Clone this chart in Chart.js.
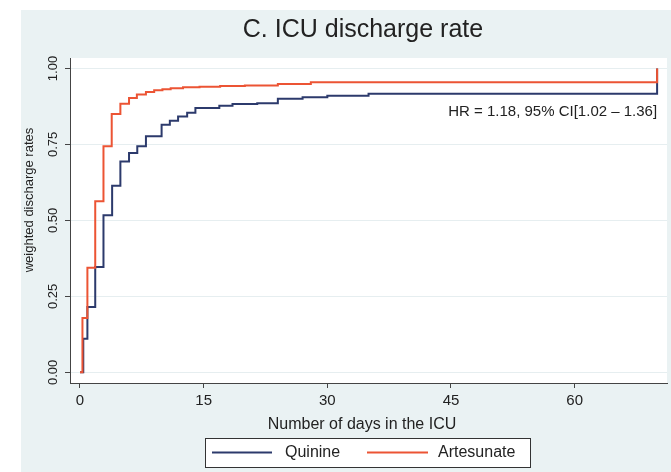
<!DOCTYPE html>
<html>
<head>
<meta charset="utf-8">
<script src="https://cdn.jsdelivr.net/npm/chart.js@4/dist/chart.umd.min.js"></script>
<style>
  html, body { margin: 0; padding: 0; background: #ffffff; }
  #wrap { width: 671px; height: 472px; }
</style>
</head>
<body>
<div id="wrap"><canvas id="c" width="671" height="472"></canvas></div>
<script>
// Weighted cumulative ICU discharge (step curves), days since admission
const quinineDays = [0, 0.4, 0.9, 1.85, 2.85, 3.9, 4.9, 5.95, 6.95, 8.0, 9.9, 10.9, 11.9, 13.0, 14.0, 16.9, 18.5, 21.5, 24.0, 27.0, 30.0, 35.0, 70.0];
const quinineRate = [0, 0.111, 0.215, 0.347, 0.517, 0.614, 0.694, 0.722, 0.744, 0.777, 0.815, 0.828, 0.842, 0.854, 0.870, 0.877, 0.883, 0.886, 0.900, 0.905, 0.910, 0.917, 1.0];

const artesunateDays = [0, 0.3, 0.9, 1.85, 2.85, 3.85, 4.9, 5.95, 6.9, 8.0, 9.0, 10.0, 11.0, 12.5, 14.5, 17.0, 20.0, 24.0, 28.0, 70.0];
const artesunateRate = [0, 0.179, 0.344, 0.563, 0.744, 0.850, 0.884, 0.903, 0.914, 0.923, 0.928, 0.932, 0.935, 0.938, 0.940, 0.942, 0.944, 0.949, 0.955, 1.0];

const seriesNames = ['Quinine', 'Artesunate'];
const seriesColors = ['#2c3a6c', '#ec5434'];

const xTickValues = [0, 15, 30, 45, 60];
const yTickValues = [0, 0.25, 0.5, 0.75, 1.0];
const yTickLabels = ['0.00', '0.25', '0.50', '0.75', '1.00'];

const chartTitle = 'C. ICU discharge rate';
const xTitle = 'Number of days in the ICU';
const yTitle = 'weighted discharge rates';
const hrNote = 'HR = 1.18, 95% CI[1.02 \u2013 1.36]';
const hrNoteAt = { x: 70, y: 0.858 };

const FONT = '"Liberation Sans", Arial, sans-serif';
const INK = '#222222';

const toPoints = (xs, ys) => xs.map((x, i) => ({ x: x, y: ys[i] }));

// Light graph region behind a white plot region
const backdrop = {
  id: 'backdrop',
  beforeDraw(chart) {
    const { ctx, chartArea: a } = chart;
    ctx.save();
    ctx.fillStyle = '#ffffff';
    ctx.fillRect(0, 0, chart.width, chart.height);
    ctx.fillStyle = '#eaf2f3';
    ctx.fillRect(21, 10, chart.width - 21, chart.height - 10);
    ctx.fillStyle = '#ffffff';
    ctx.fillRect(a.left, a.top, a.right - a.left, a.bottom - a.top);
    ctx.restore();
  }
};

// Titles, rotated y labels, note and boxed legend
const decorations = {
  id: 'decorations',
  afterDraw(chart) {
    const { ctx, chartArea: a } = chart;
    const xs = chart.scales.x, ys = chart.scales.y;
    ctx.save();
    ctx.fillStyle = INK;

    // main title
    ctx.font = '25px ' + FONT;
    ctx.textAlign = 'center';
    ctx.textBaseline = 'middle';
    ctx.fillText(chartTitle, 363, 30);

    // y tick labels, rotated
    ctx.font = '13px ' + FONT;
    yTickValues.forEach((v, i) => {
      const py = ys.getPixelForValue(v);
      ctx.save();
      ctx.translate(53, py);
      ctx.rotate(-Math.PI / 2);
      ctx.textAlign = 'center';
      ctx.textBaseline = 'middle';
      ctx.fillText(yTickLabels[i], 0, 0);
      ctx.restore();
    });

    // y axis title
    ctx.save();
    ctx.translate(29, 200);
    ctx.rotate(-Math.PI / 2);
    ctx.font = '13px ' + FONT;
    ctx.textAlign = 'center';
    ctx.textBaseline = 'middle';
    ctx.fillText(yTitle, 0, 0);
    ctx.restore();

    // x axis title
    ctx.font = '16px ' + FONT;
    ctx.textAlign = 'center';
    ctx.textBaseline = 'middle';
    ctx.fillText(xTitle, 362, 425);

    // hazard ratio note
    ctx.font = '15px ' + FONT;
    ctx.textAlign = 'right';
    ctx.fillText(hrNote, xs.getPixelForValue(hrNoteAt.x), ys.getPixelForValue(hrNoteAt.y));

    // legend box
    const bx = 205, by = 438, bw = 325, bh = 29;
    ctx.strokeStyle = '#333333';
    ctx.lineWidth = 1;
    ctx.fillStyle = '#ffffff';
    ctx.fillRect(bx, by, bw, bh);
    ctx.strokeRect(bx + 0.5, by + 0.5, bw, bh);
    const cy = by + bh / 2;
    const keys = [
      { x0: 212, x1: 272, tx: 285 },
      { x0: 367, x1: 428, tx: 438 }
    ];
    ctx.font = '16px ' + FONT;
    ctx.textAlign = 'left';
    ctx.textBaseline = 'middle';
    keys.forEach((k, i) => {
      ctx.strokeStyle = seriesColors[i];
      ctx.lineWidth = 2;
      ctx.beginPath();
      ctx.moveTo(k.x0, cy);
      ctx.lineTo(k.x1, cy);
      ctx.stroke();
      ctx.fillStyle = INK;
      ctx.fillText(seriesNames[i], k.tx, cy);
    });
    ctx.restore();
  }
};

new Chart(document.getElementById('c'), {
  type: 'line',
  data: {
    datasets: [
      {
        label: seriesNames[0],
        data: toPoints(quinineDays, quinineRate),
        borderColor: seriesColors[0],
        borderWidth: 2,
        stepped: 'before',
        pointRadius: 0,
        fill: false,
        order: 1
      },
      {
        label: seriesNames[1],
        data: toPoints(artesunateDays, artesunateRate),
        borderColor: seriesColors[1],
        borderWidth: 2,
        stepped: 'before',
        pointRadius: 0,
        fill: false,
        order: 0
      }
    ]
  },
  options: {
    responsive: false,
    animation: false,
    devicePixelRatio: 1,
    layout: { padding: { left: 0, top: 58, right: 4, bottom: 0 } },
    plugins: {
      legend: { display: false },
      title: { display: false },
      tooltip: { enabled: false }
    },
    scales: {
      x: {
        type: 'linear',
        min: -1.21,
        max: 71.2,
        afterBuildTicks: (axis) => { axis.ticks = xTickValues.map(v => ({ value: v })); },
        afterFit: (axis) => { axis.height = 89; },
        ticks: {
          autoSkip: false,
          maxRotation: 0,
          padding: 4,
          color: INK,
          font: { family: FONT, size: 15 },
          callback: (v) => String(v)
        },
        grid: {
          drawOnChartArea: false,
          drawTicks: true,
          tickLength: 5,
          tickColor: '#444444',
          tickWidth: 1
        },
        border: { display: true, color: '#444444', width: 1 }
      },
      y: {
        type: 'linear',
        min: -0.035,
        max: 1.0345,
        afterBuildTicks: (axis) => { axis.ticks = yTickValues.map(v => ({ value: v })); },
        afterFit: (axis) => { axis.width = 70; },
        ticks: { display: false },
        grid: {
          color: '#e6eef0',
          lineWidth: 1,
          drawTicks: true,
          tickLength: 5,
          tickColor: '#444444',
          tickWidth: 1
        },
        border: { display: true, color: '#444444', width: 1 }
      }
    }
  },
  plugins: [backdrop, decorations]
});
</script>
</body>
</html>
